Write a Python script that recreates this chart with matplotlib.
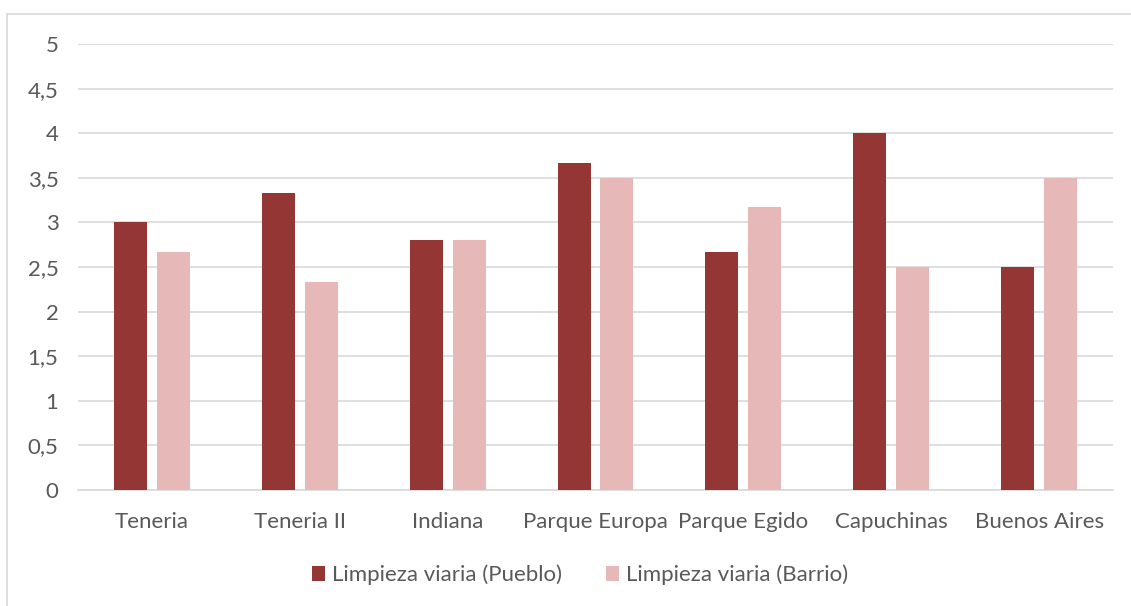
import matplotlib.pyplot as plt
import numpy as np
from matplotlib.patches import Rectangle

categories = ["Teneria", "Teneria II", "Indiana", "Parque Europa", "Parque Egido", "Capuchinas", "Buenos Aires"]
pueblo = [3.0, 3.33, 2.8, 3.67, 2.67, 4.0, 2.5]
barrio = [2.67, 2.33, 2.8, 3.5, 3.17, 2.5, 3.5]
series_names = ["Limpieza viaria (Pueblo)", "Limpieza viaria (Barrio)"]
yticks = [0, 0.5, 1, 1.5, 2, 2.5, 3, 3.5, 4, 4.5, 5]
ytick_labels = ["0", "0,5", "1", "1,5", "2", "2,5", "3", "3,5", "4", "4,5", "5"]

plt.rcParams['font.family'] = ['Lato', 'DejaVu Sans']
W, H = 1131, 606
fig = plt.figure(figsize=(W/100, H/100), dpi=100)
fig.patches.append(Rectangle((7/W, -0.1), 1.2, (606-14)/H + 0.1, transform=fig.transFigure,
                             fill=False, edgecolor='#d9d9d9', linewidth=1.2))

ax = fig.add_axes([78/W, (H-490)/H, (1113-78)/W, (490-44)/H])
x = np.arange(len(categories))
bw = 0.223
off = 0.145
ax.bar(x - off, pueblo, bw, color='#943634', label=series_names[0], zorder=3)
ax.bar(x + off, barrio, bw, color='#E6B9B8', label=series_names[1], zorder=3)

ax.set_xlim(-0.5, len(categories) - 0.5)
ax.set_ylim(0, 5)
ax.set_yticks(yticks)
ax.set_yticklabels(ytick_labels)
ax.set_xticks(x)
ax.set_xticklabels(categories)
ax.yaxis.grid(True, color='#d9d9d9', linewidth=1.2, zorder=0)
for s in ['top', 'right', 'left']:
    ax.spines[s].set_visible(False)
ax.spines['bottom'].set_color('#d9d9d9')
ax.spines['bottom'].set_linewidth(1.2)
ax.tick_params(axis='both', length=0, labelsize=16, colors='#595959')
ax.tick_params(axis='y', pad=14)
ax.tick_params(axis='x', pad=16)

leg = fig.legend(loc='center', bbox_to_anchor=(580/W, (H-575)/H), ncol=2, frameon=False,
                 fontsize=16, handlelength=0.6, handleheight=0.6, columnspacing=2.0, handletextpad=0.3)
for t in leg.get_texts():
    t.set_color('#595959')

fig.savefig('out.png', dpi=100)
